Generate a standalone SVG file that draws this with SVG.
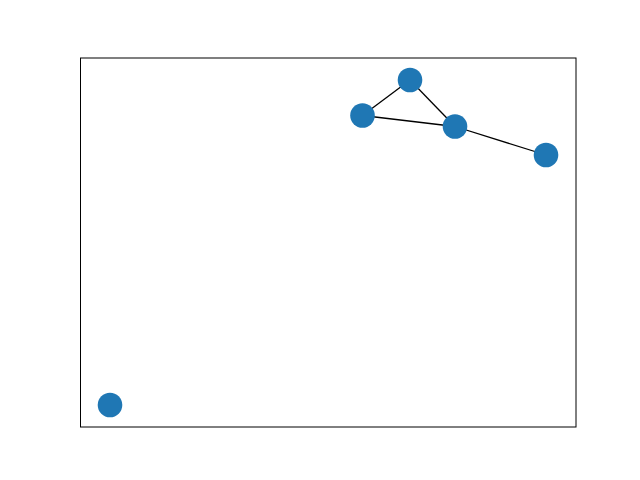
<svg xmlns="http://www.w3.org/2000/svg" width="640" height="480" viewBox="0 0 640 480">
<style>
.node{fill:#1f77b4}
.edge{stroke:#000;stroke-width:1.3;fill:none}
</style>
<rect width="640" height="480" fill="#fff"/>
<rect x="80.5" y="58" width="495.5" height="369" fill="none" stroke="#000" stroke-width="1"/>
<g id="edges">
<line class="edge" x1="410" y1="80" x2="362.5" y2="115.5"/>
<line class="edge" x1="410" y1="80" x2="455" y2="126.5"/>
<line class="edge" x1="362.5" y1="115.5" x2="455" y2="126.5"/>
<line class="edge" x1="455" y1="126.5" x2="546" y2="155"/>
</g>
<g id="n0"><circle class="node" cx="410" cy="80" r="12.3"/></g>
<g id="n1"><circle class="node" cx="362.5" cy="115.5" r="12.3"/></g>
<g id="n2"><circle class="node" cx="455" cy="126.5" r="12.3"/></g>
<g id="n3"><circle class="node" cx="546" cy="155" r="12.3"/></g>
<g id="n4"><circle class="node" cx="110" cy="405" r="12.3"/></g>
</svg>
